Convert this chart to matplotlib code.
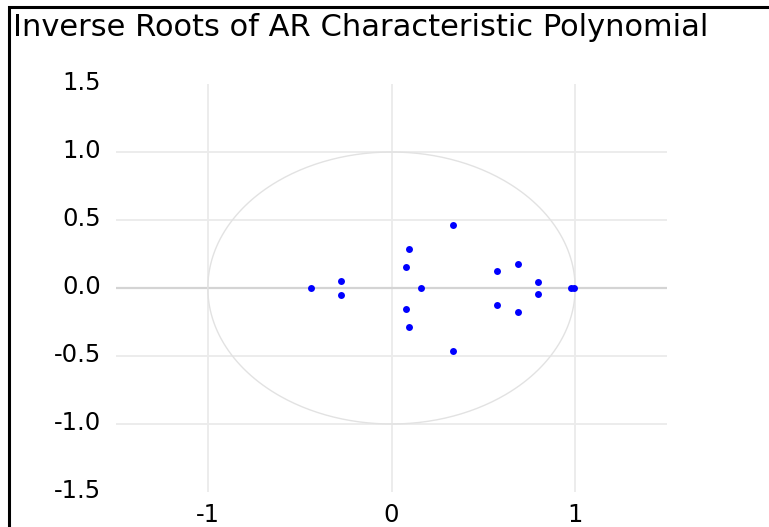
import matplotlib
matplotlib.use("Agg")
import matplotlib.pyplot as plt
import matplotlib.transforms as mtransforms
import numpy as np
from matplotlib.patches import Rectangle

plt.rcParams['font.family'] = ['DejaVu Sans']

root_re = [-0.44, -0.277, -0.277, 0.334, 0.334, 0.094, 0.094, 0.080, 0.080,
           0.162, 0.576, 0.576, 0.687, 0.687, 0.800, 0.800, 0.980, 0.995]
root_im = [0.0, 0.048, -0.048, 0.465, -0.465, 0.289, -0.289, 0.154, -0.154,
           0.0, 0.124, -0.124, 0.178, -0.178, 0.042, -0.042, 0.0, 0.0]

x_ticks = [-1, 0, 1]
y_ticks = [-1.5, -1.0, -0.5, 0.0, 0.5, 1.0, 1.5]
y_grid = [-1.0, -0.5, 0.5, 1.0]

title = "Inverse Roots of AR Characteristic Polynomial"

fig = plt.figure(figsize=(7.69, 5.27), dpi=100)
ax = fig.add_axes([116/769, 1-492/527, 551/769, 408/527])

# grid lines
for gx in x_ticks:
    ax.axvline(gx, color='#ebebeb', lw=1.3, zorder=0)
for gy in y_grid:
    ax.axhline(gy, color='#ebebeb', lw=1.3, zorder=0)
ax.axhline(0, color='#d4d4d4', lw=1.6, zorder=0)

# unit circle
t = np.linspace(0, 2*np.pi, 400)
ax.plot(np.cos(t), np.sin(t), color='#e2e2e2', lw=1.0, zorder=1)

ax.plot(root_re, root_im, 'o', color='#0000ff', ms=5, mec='none', zorder=3)

ax.set_xlim(-1.5, 1.5)
ax.set_ylim(-1.5, 1.5)
ax.set_xticks(x_ticks)
ax.set_xticklabels([str(v) for v in x_ticks])
ax.set_yticks(y_ticks)
ax.set_yticklabels(['%.1f' % v for v in y_ticks])
ax.tick_params(axis='both', length=0, labelsize=17.5)
ax.tick_params(axis='y', pad=11)
ax.tick_params(axis='x', pad=8)
# y labels sit a little above their grid lines
shift = mtransforms.ScaledTranslation(0, 3/100, fig.dpi_scale_trans)
for lab in ax.get_yticklabels():
    lab.set_transform(lab.get_transform() + shift)
for s in ax.spines.values():
    s.set_visible(False)

fig.text(13/769, 1-28/527, title, fontsize=22, va='center', ha='left')

# chart frame
fig.patches.append(Rectangle((9/769, -0.1), 1.2, 1.1 - 7/527, transform=fig.transFigure,
                             fill=False, ec='black', lw=2.2))

fig.savefig("out.png", dpi=100)
